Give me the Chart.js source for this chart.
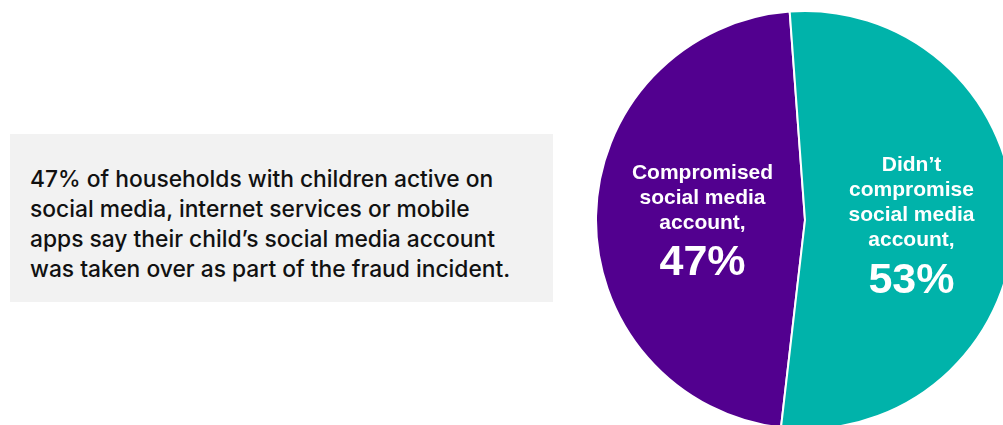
<!DOCTYPE html>
<html>
<head>
<meta charset="utf-8">
<script src="https://cdn.jsdelivr.net/npm/chart.js@4.4.1/dist/chart.umd.min.js"></script>
<style>
  html, body { margin: 0; padding: 0; width: 1003px; height: 425px; overflow: hidden; background: #fff; }
  #note {
    position: absolute; left: 10px; top: 134px; width: 543px; height: 168px;
    background: #f2f2f2; box-sizing: border-box; padding: 30px 0 0 20px;
    font-family: Inter, "Open Sans", sans-serif; font-weight: 500; font-size: 22.8px;
    line-height: 30px; color: #111;
  }
  #wrap { position: absolute; left: 595px; top: 10px; width: 420px; height: 420px; }
</style>
</head>
<body>
<div id="note">47% of households with children active on<br>social media, internet services or mobile<br>apps say their child’s social media account<br>was taken over as part of the fraud incident.</div>
<div id="wrap"><canvas id="pie" width="420" height="420"></canvas></div>
<script>
const labels = ["Compromised social media account", "Didn’t compromise social media account"];
const values = [47, 53];
const colors = ["#52008f", "#00b3aa"];
// label lines drawn inside each slice
const sliceText = [
    ["Compromised", "social media", "account,"],
    ["Didn’t", "compromise", "social media", "account,"]
];
const textShift = [2, 3];

const sliceLabels = {
    id: "sliceLabels",
    afterDatasetsDraw(chart) {
        const ctx = chart.ctx;
        const arcs = chart.getDatasetMeta(0).data;
        ctx.save();
        ctx.fillStyle = "#fff";
        ctx.textAlign = "center";
        ctx.textBaseline = "middle";
        arcs.forEach((arc, i) => {
            const p = arc.tooltipPosition();
            const lines = sliceText[i];
            const lh = 25;
            const top = p.y - (lines.length * lh + 40) / 2 + lh / 2 - 2 + textShift[i];
            ctx.font = "bold 21px 'Liberation Sans', Arial, sans-serif";
            lines.forEach((t, k) => ctx.fillText(t, p.x + 2, top + k * lh));
            ctx.font = "bold 43px 'Liberation Sans', Arial, sans-serif";
            ctx.fillText(values[i] + "%", p.x + 2, top + lines.length * lh + 15);
        });
        ctx.restore();
    }
};

new Chart(document.getElementById("pie"), {
    type: "pie",
    data: {
        labels: labels,
        datasets: [{
            data: values,
            backgroundColor: colors,
            borderColor: "#ffffff",
            borderWidth: 2
        }]
    },
    options: {
        responsive: false,
        animation: false,
        rotation: 186.6,
        plugins: { legend: { display: false }, tooltip: { enabled: false } }
    },
    plugins: [sliceLabels]
});
</script>
</body>
</html>
